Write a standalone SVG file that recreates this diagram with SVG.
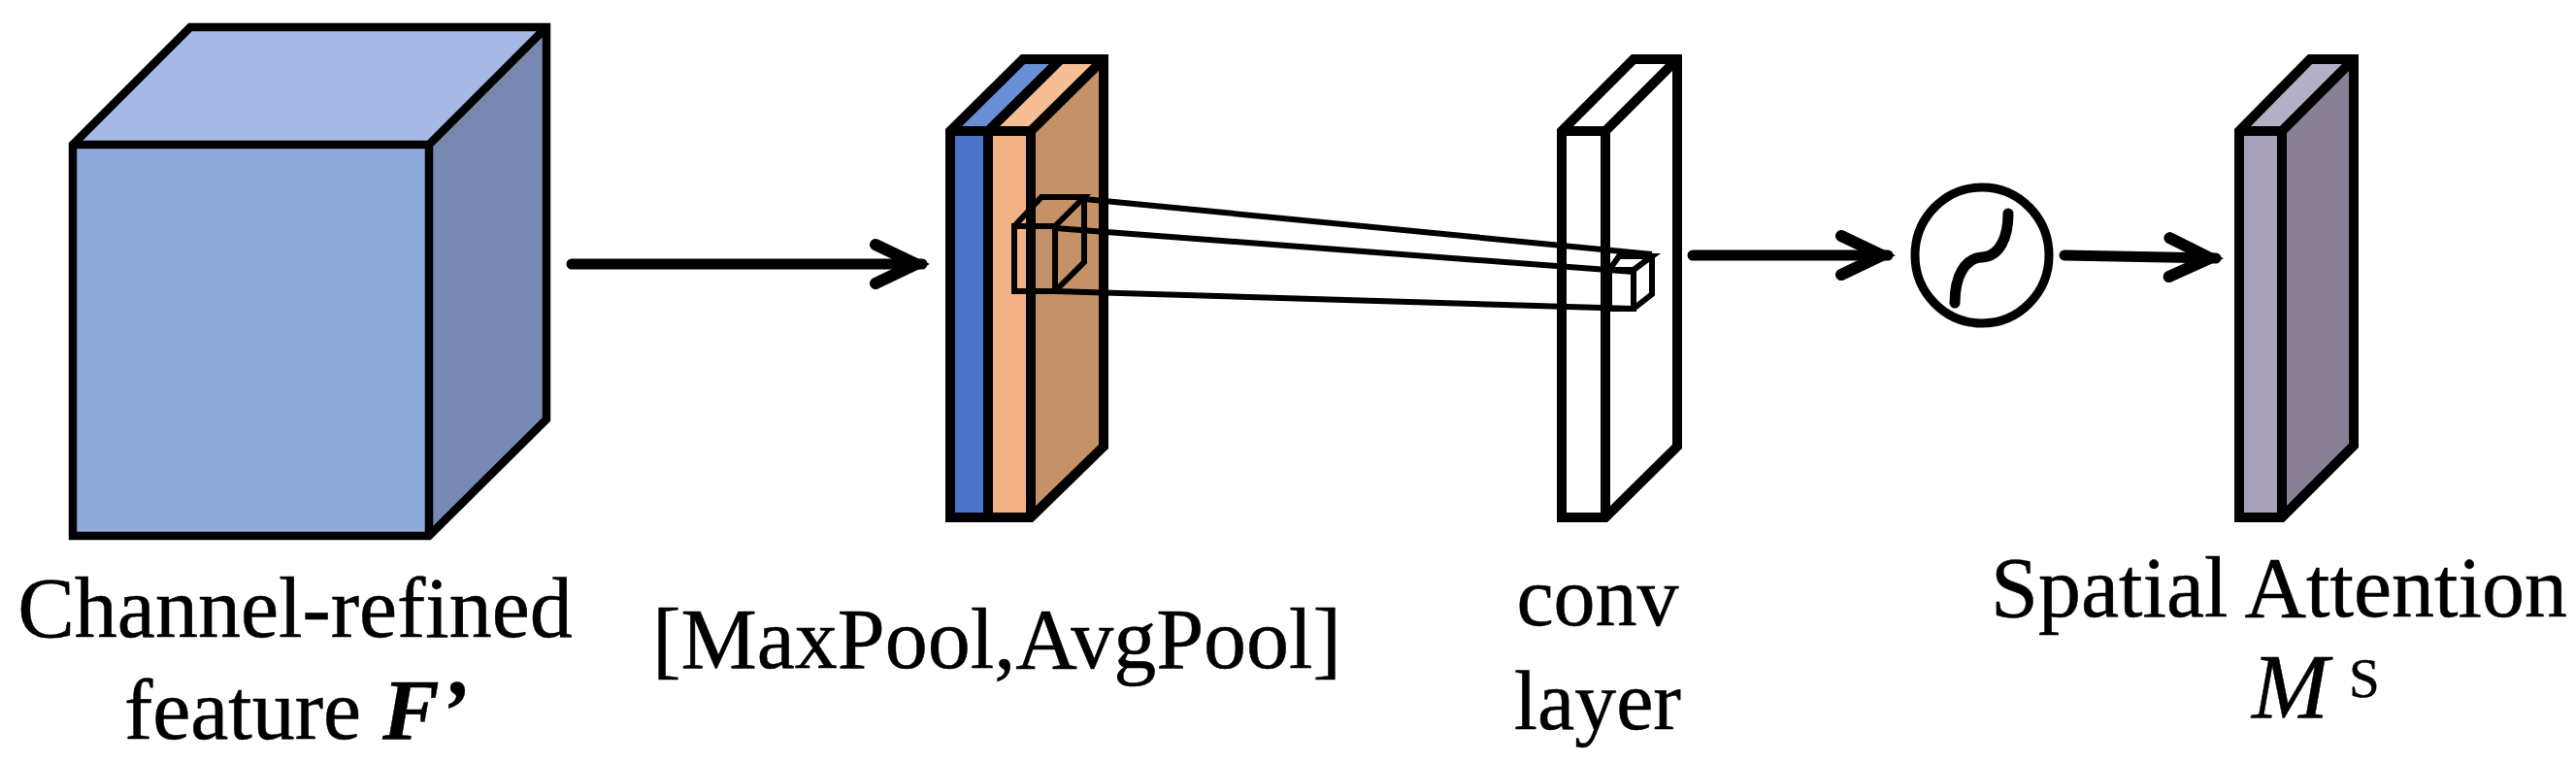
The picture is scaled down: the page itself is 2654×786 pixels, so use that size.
<svg xmlns="http://www.w3.org/2000/svg" width="2654" height="786" viewBox="0 0 2654 786">
<style>
.f{stroke:none}
.e{fill:none;stroke:#000;stroke-width:10;stroke-linejoin:miter}
.k{fill:none;stroke:#000;stroke-width:8.5;stroke-linejoin:miter}
.w{fill:none;stroke:#000;stroke-width:6;stroke-linejoin:miter}
.c{fill:none;stroke:#000;stroke-width:11;stroke-linecap:round}
.a{fill:none;stroke:#000;stroke-width:11;stroke-linecap:round}
text{font-family:"Liberation Serif","Times New Roman",serif;fill:#000;stroke:#000;stroke-width:.5;font-size:88px}
</style>
<defs>
<marker id="h" markerUnits="userSpaceOnUse" markerWidth="80" markerHeight="70" refX="56" refY="30" orient="auto" viewBox="0 0 80 70">
<path d="M8,10 L50,30 L8,50" fill="none" stroke="#000" stroke-width="12" stroke-linecap="round" stroke-linejoin="miter"/>
</marker>
</defs>
<rect width="2654" height="786" fill="#fff"/>
<g id="cube-f">
<path class="f" fill="#A6B9E4" d="M75,149 L196,28 H563 L442,149 Z"/>
<path class="f" fill="#7789B3" d="M442,149 L563,28 V432 L442,552 Z"/>
<rect class="f" fill="#8FAADC" x="75" y="149" width="367" height="403"/>
<path class="k" d="M75,149 L196,28 H563 V432 L442,552 H75 Z M75,149 H442 V552 M442,149 L563,28"/>
</g>
<g id="pool-stack">
<path class="f" fill="#6A8FD6" d="M979,135 L1054,61 H1093 L1018,135 Z"/>
<path class="f" fill="#F5BE95" d="M1018,135 L1093,61 H1137 L1062,135 Z"/>
<path class="f" fill="#C59268" d="M1062,135 L1137,61 V460 L1062,533 Z"/>
<rect class="f" fill="#4A74C8" x="979" y="135" width="39" height="398"/>
<rect class="f" fill="#F4B183" x="1018" y="135" width="44" height="398"/>
<path class="e" d="M979,135 L1054,61 H1137 V460 L1062,533 H979 Z M979,135 H1062 V533 M1018,135 V533 M1018,135 L1093,61 M1062,135 L1137,61"/>
<path class="w" d="M1045,233 H1087 V300 H1045 Z M1045,233 L1073,203 H1117 L1087,233 M1117,203 V270 L1087,300"/>
</g>
<g id="conv-layer">
<path class="e" d="M1609,135 L1683,61 H1728 V460 L1654,533 H1609 Z M1609,135 H1654 V533 M1654,135 L1728,61"/>
<path class="w" d="M1658,278 H1683 V318 H1658 Z M1658,278 L1668,264 H1702 L1683,278 M1702,262 V303 L1683,318"/>
</g>
<g id="connectors">
<path class="w" d="M1117,205 L1702,262 M1087,235 L1683,280 M1087,300 L1683,318"/>
<path class="a" d="M589,272 H950" marker-end="url(#h)"/>
<path class="a" d="M1744,263 H1945" marker-end="url(#h)"/>
<path class="a" d="M2127,263 L2283,266" marker-end="url(#h)"/>
</g>
<g id="sigmoid">
<ellipse cx="2042" cy="263" rx="69" ry="70" fill="#fff" stroke="#000" stroke-width="9"/>
<path class="c" d="M2014,312 C2014,285 2024,266 2042,265 C2060,264 2069,245 2069,220"/>
</g>
<g id="attention-map">
<path class="f" fill="#B5AFC6" d="M2307,135 L2380,61 H2425 L2351,135 Z"/>
<path class="f" fill="#887F94" d="M2351,135 L2425,61 V459 L2351,533 Z"/>
<rect class="f" fill="#A6A0B8" x="2307" y="135" width="44" height="398"/>
<path class="e" d="M2307,135 L2380,61 H2425 V459 L2351,533 H2307 Z M2307,135 H2351 V533 M2351,135 L2425,61"/>
</g>
<g id="labels">
<text x="304" y="656" text-anchor="middle">Channel-refined</text>
<text x="305" y="761" text-anchor="middle">feature <tspan font-weight="bold" font-style="italic">F’</tspan></text>
<text x="1027" y="688" text-anchor="middle">[MaxPool,AvgPool]</text>
<text x="1646" y="644" text-anchor="middle" style="font-size:86px">conv</text>
<text x="1646" y="751" text-anchor="middle" style="font-size:86px">layer</text>
<text x="2348" y="635" text-anchor="middle">Spatial Attention</text>
<text x="2320" y="740" font-style="italic" style="font-size:95px">M</text>
<text x="2420" y="718" style="font-size:57px">S</text>
</g>
</svg>
